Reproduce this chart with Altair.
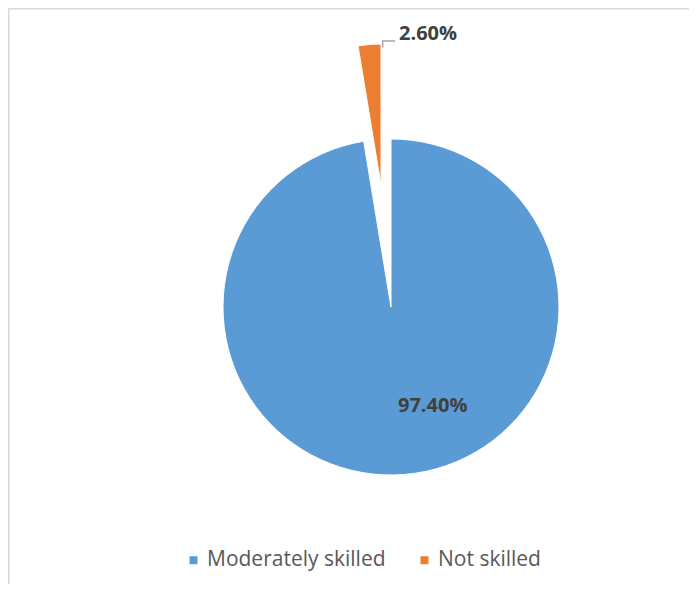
import altair as alt
import pandas as pd

categories = ["Moderately skilled", "Not skilled"]
values = [97.4, 2.6]
labels = ["97.40%", "2.60%"]
colors = ["#5B9BD5", "#ED7D31"]

df = pd.DataFrame({
    "category": categories,
    "value": values,
    "label": labels,
    "idx": list(range(len(categories))),
})

W, H = 681, 576
# pie centre offsets from view centre
BX, BY = 42.5, 11
OX, OY = 32.5, -111
FONT = "Open Sans"

base = (
    alt.Chart(df)
    .transform_joinaggregate(total="sum(value)")
    .transform_window(cum="sum(value)", sort=[alt.SortField("idx")], frame=[None, 0])
    .transform_calculate(
        start="2*PI*(datum.cum-datum.value)/datum.total",
        end="2*PI*datum.cum/datum.total",
        mid="PI*(2*datum.cum-datum.value)/datum.total",
    )
)

color = alt.Color(
    "category:N",
    scale=alt.Scale(domain=categories, range=colors),
    legend=alt.Legend(
        orient="none", legendX=175, legendY=541.5, direction="horizontal",
        title=None, symbolType="square", symbolSize=64, symbolStrokeWidth=0,
        labelFont=FONT, labelFontSize=21, labelColor="#595959", labelLimit=0,
        labelOffset=3, columnPadding=28,
    ),
)

blue = base.transform_filter(alt.datum.category == categories[0]).mark_arc(
    radius=168, stroke="white", strokeWidth=1, xOffset=BX, yOffset=BY
).encode(theta=alt.Theta("start:Q", scale=None), theta2="end", color=color)

orange = base.transform_filter(alt.datum.category == categories[1]).mark_arc(
    radius=141, stroke="white", strokeWidth=1, xOffset=OX, yOffset=OY
).encode(theta=alt.Theta("start:Q", scale=None), theta2="end", color=color)

blue_label = base.transform_filter(alt.datum.category == categories[0]).mark_text(
    font=FONT, fontSize=20, fontWeight="bold", color="#404040",
    xOffset=BX, yOffset=BY, dx=33, dy=-8, baseline="middle", align="center",
).encode(theta=alt.Theta("mid:Q", scale=None), radius=alt.value(107), text="label:N")

orange_label = base.transform_filter(alt.datum.category == categories[1]).mark_text(
    font=FONT, fontSize=20, fontWeight="bold", color="#404040",
    xOffset=OX, yOffset=OY, dx=29.5, dy=-10.5, baseline="middle", align="left",
).encode(theta=alt.Theta("mid:Q", scale=None), radius=alt.value(141), text="label:N")

one = pd.DataFrame({"k": [0]})
leader_v = alt.Chart(one).mark_rule(color="#a6a6a6", strokeWidth=1.5).encode(
    x=alt.value(374.7), y=alt.value(33), y2=alt.value(39.5))
leader_h = alt.Chart(one).mark_rule(color="#a6a6a6", strokeWidth=1.5).encode(
    x=alt.value(374), x2=alt.value(387), y=alt.value(33))

frame_left = alt.Chart(one).mark_rule(color="#d9d9d9", strokeWidth=1.5).encode(
    x=alt.value(0.75), y=alt.value(0), y2=alt.value(H))
frame_top = alt.Chart(one).mark_rule(color="#d9d9d9", strokeWidth=1.5).encode(
    x=alt.value(0), x2=alt.value(W), y=alt.value(0.75))

chart = (
    alt.layer(frame_left, frame_top, blue, orange, leader_v, leader_h, blue_label, orange_label)
    .properties(width=W, height=H, autosize=alt.AutoSizeParams(type="none"), padding=0)
    .configure_view(stroke=None)
    .configure(background="white")
)

chart.save("out.html", embed_options={"renderer": "svg", "actions": False})
